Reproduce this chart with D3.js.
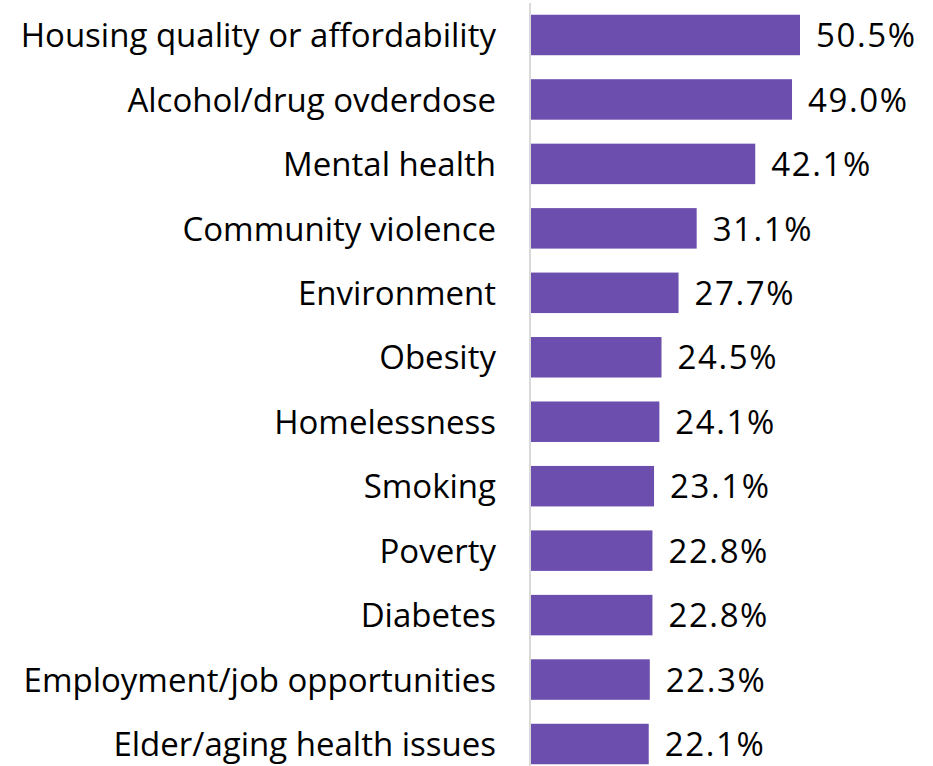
<!DOCTYPE html>
<html><head><meta charset="utf-8">
<script src="https://cdn.jsdelivr.net/npm/d3@7"></script>
<style>body{margin:0;background:#fff}</style>
</head><body><svg id="c" width="933" height="766"></svg>
<script>
const categories = ["Housing quality or affordability","Alcohol/drug ovderdose","Mental health","Community violence","Environment","Obesity","Homelessness","Smoking","Poverty","Diabetes","Employment/job opportunities","Elder/aging health issues"];
const values = [50.5,49.0,42.1,31.1,27.7,24.5,24.1,23.1,22.8,22.8,22.3,22.1];
const valueLabels = ["50.5%","49.0%","42.1%","31.1%","27.7%","24.5%","24.1%","23.1%","22.8%","22.8%","22.3%","22.1%"];

const svg = d3.select("#c");
const x0 = 531;
const x = d3.scaleLinear().domain([0, 50.5]).range([x0, 800]);
const y = d3.scaleBand().domain(categories).range([2.5, 776.5]).paddingInner(0.372).paddingOuter(0.19);
const font = "Open Sans, sans-serif";

svg.append("g").selectAll("rect").data(categories).join("rect")
  .attr("x", x0).attr("y", d => y(d))
  .attr("width", (d,i) => x(values[i]) - x0)
  .attr("height", y.bandwidth())
  .attr("fill", "#6B4EAD");

svg.append("line").attr("x1", 530).attr("x2", 530).attr("y1", 3).attr("y2", 766)
  .attr("stroke", "#d9d9d9").attr("stroke-width", 2);

svg.append("g").selectAll("text").data(categories).join("text")
  .attr("x", 496).attr("y", d => y(d) + y.bandwidth()/2)
  .attr("dy", "0.37em").attr("text-anchor", "end")
  .attr("font-family", font).attr("font-size", 33).attr("fill", "#000")
  .text(d => d);

svg.append("g").selectAll("text").data(categories).join("text")
  .attr("x", (d,i) => x(values[i]) + 16).attr("y", d => y(d) + y.bandwidth()/2)
  .attr("dy", "0.37em")
  .attr("font-family", font).attr("font-size", 33).attr("fill", "#000")
  .attr("letter-spacing", 1.6)
  .text((d,i) => valueLabels[i]);
</script></body></html>
